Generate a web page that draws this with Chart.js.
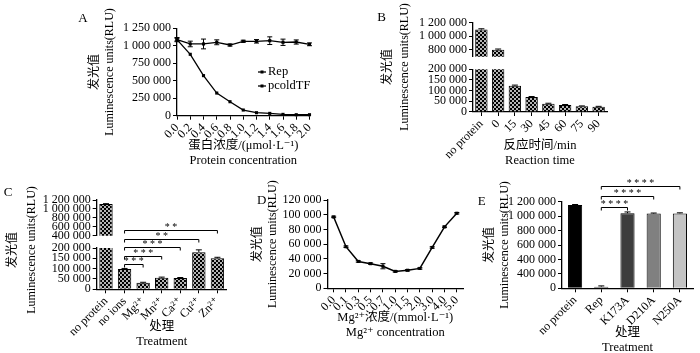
<!DOCTYPE html>
<html>
<head>
<meta charset="utf-8">
<script src="https://cdn.jsdelivr.net/npm/chart.js@4.4.0/dist/chart.umd.min.js"></script>
<style>
  html, body { margin: 0; padding: 0; background: #fff; }
  #fig { position: relative; width: 700px; height: 353px; overflow: hidden; }
  #fig canvas { position: absolute; }
</style>
</head>
<body>
<div id="fig">
  <canvas id="cA" width="330" height="172" style="left:0;top:0"></canvas>
  <canvas id="cB" width="280" height="172" style="left:340px;top:0"></canvas>
  <canvas id="cBt" width="280" height="66" style="left:340px;top:0"></canvas>
  <canvas id="cC" width="235" height="183" style="left:0;top:170px"></canvas>
  <canvas id="cCt" width="235" height="75" style="left:0;top:170px"></canvas>
  <canvas id="cD" width="235" height="183" style="left:235px;top:170px"></canvas>
  <canvas id="cE" width="230" height="183" style="left:470px;top:170px"></canvas>
</div>
<script>
// ---- data ----
// A: protein concentration series
const aConc = ['0.0', '0.2', '0.4', '0.6', '0.8', '1.0', '1.2', '1.4', '1.6', '1.8', '2.0'];
const aRep = [1088000, 878000, 573000, 324000, 200000, 81000, 43000, 33000, 19000, 14000, 14000];
const aRepErr = [20000, 0, 0, 0, 0, 0, 0, 0, 0, 0, 0];
const aTF = [1088000, 1026000, 1026000, 1050000, 1011000, 1064000, 1064000, 1073000, 1050000, 1054000, 1021000];
const aTFErr = [30000, 40000, 70000, 35000, 15000, 15000, 25000, 55000, 45000, 30000, 20000];
const aYTicks = [0, 250000, 500000, 750000, 1000000, 1250000];
const aYLabels = ['0', '250 000', '500 000', '750 000', '1 000 000', '1 250 000'];

// B: reaction time
const bTime = ['no protein', '0', '15', '30', '45', '60', '75', '90'];
const bLum = [1099000, 804000, 123000, 70000, 39000, 33000, 27000, 25000];
const bErr = [12000, 10000, 3000, 2500, 2000, 2000, 1500, 1500];
const bTopTicks = [800000, 1000000, 1200000];
const bTopLabels = ['800 000', '1 000 000', '1 200 000'];
const bLowTicks = [0, 50000, 100000, 150000, 200000];
const bLowLabels = ['0', '50 000', '100 000', '150 000', '200 000'];

// C: metal ions
const cTreat = ['no protein', 'no ions', 'Mg²⁺', 'Mn²⁺', 'Ca²⁺', 'Cu²⁺', 'Zn²⁺'];
const cLum = [1110000, 98000, 32000, 56000, 55000, 180000, 150000];
const cErr = [8000, 3000, 2000, 3000, 2000, 11000, 5000];
const cComp = [[1, 2, '***'], [1, 3, '***'], [1, 4, '***'], [1, 5, '**'], [1, 6, '**']];
const cTopTicks = [400000, 600000, 800000, 1000000, 1200000];
const cTopLabels = ['400 000', '600 000', '800 000', '1 000 000', '1 200 000'];
const cLowTicks = [0, 50000, 100000, 150000, 200000];
const cLowLabels = ['0', '50 000', '100 000', '150 000', '200 000'];

// D: Mg2+ concentration
const dConc = ['0.0', '0.1', '0.3', '0.5', '0.7', '1.0', '1.5', '2.0', '3.0', '4.0', '5.0'];
const dLum = [97000, 56500, 36500, 33500, 30000, 23000, 24500, 27000, 55500, 83500, 102000];
const dErr = [1000, 1000, 1000, 1000, 3500, 1000, 1000, 1000, 1000, 1000, 1000];
const dYTicks = [0, 20000, 40000, 60000, 80000, 100000, 120000];
const dYLabels = ['0', '20 000', '40 000', '60 000', '80 000', '100 000', '120 000'];

// E: mutants
const eTreat = ['no protein', 'Rep', 'K173A', 'D210A', 'N250A'];
const eLum = [1153000, 23000, 1040000, 1035000, 1038000];
const eErr = [8000, 10000, 18000, 8000, 8000];
const eComp = [[1, 2, '****'], [1, 3, '****'], [1, 4, '****']];
const eYTicks = [0, 200000, 400000, 600000, 800000, 1000000, 1200000];
const eYLabels = ['0', '400 000', '400 000', '600 000', '800 000', '1 000 000', '1 200 000'];

const Y_TITLE = ['发光值', 'Luminescence units(RLU)'];

// ---- defaults ----
const FONT = "'Liberation Serif', 'Noto Sans CJK SC', 'DejaVu Serif', serif";
Chart.defaults.font.family = FONT;
Chart.defaults.font.size = 12;
Chart.defaults.color = '#000';
Chart.defaults.animation = false;
Chart.defaults.responsive = false;
Chart.defaults.plugins.legend.display = false;
Chart.defaults.plugins.tooltip.enabled = false;

const ROT = -Math.PI / 2;

// checkered fill used by B and C bars
function checker() {
  const c = document.createElement('canvas');
  c.width = 4; c.height = 4;
  const g = c.getContext('2d');
  g.fillStyle = '#000';
  g.fillRect(0, 0, 4, 4);
  g.fillStyle = '#b4b4b4';
  g.fillRect(0, 0, 2, 2);
  g.fillRect(2, 2, 2, 2);
  return g.createPattern(c, 'repeat');
}
const CHECK = checker();

function yAxis(width, min, max, ticks, labels, title) {
  return {
    min, max,
    afterFit: (s) => { s.width = width; },
    afterBuildTicks: (s) => { s.ticks = ticks.map((v) => ({ value: v })); },
    ticks: { autoSkip: false, padding: 2, callback: (v, i) => labels[i] },
    grid: { drawOnChartArea: false, tickLength: 4, color: '#000' },
    border: { color: '#000', width: 1.3 },
    title: { display: !!title, text: title, padding: 0, font: { size: 12, lineHeight: 1.25 } },
  };
}

function xAxis(height, title, titlePad) {
  return {
    afterFit: (s) => { s.height = height; },
    ticks: { autoSkip: false, minRotation: 45, maxRotation: 45, padding: 1 },
    grid: { drawOnChartArea: false, offset: false, tickLength: 4, color: '#000' },
    border: { color: '#000', width: 1.3 },
    title: { display: true, text: title, padding: titlePad || 0, font: { size: 12.5, lineHeight: 1.2 } },
  };
}

// error bars, drawn from the dataset values through the y scale
function errBars(sets) {
  return {
    id: 'errBars',
    afterDatasetsDraw(chart) {
      const { ctx, chartArea: a } = chart;
      ctx.save();
      ctx.beginPath();
      ctx.rect(a.left - 12, a.top, a.right - a.left + 24, a.bottom - a.top);
      ctx.clip();
      ctx.strokeStyle = '#000';
      ctx.lineWidth = 1;
      sets.forEach((s) => {
        const meta = chart.getDatasetMeta(s.index || 0);
        const ys = chart.scales[meta.yAxisID];
        const vals = chart.data.datasets[s.index || 0].data;
        meta.data.forEach((el, i) => {
          const e = s.err[i];
          if (!e) return;
          const top = ys.getPixelForValue(vals[i] + e);
          const bot = s.up ? el.y : ys.getPixelForValue(vals[i] - e);
          ctx.beginPath();
          ctx.moveTo(el.x, top); ctx.lineTo(el.x, bot);
          ctx.moveTo(el.x - s.cap, top); ctx.lineTo(el.x + s.cap, top);
          if (!s.up) { ctx.moveTo(el.x - s.cap, bot); ctx.lineTo(el.x + s.cap, bot); }
          ctx.stroke();
        });
      });
      ctx.restore();
    },
  };
}

// free text, legend and significance brackets
function decor(cfg) {
  return {
    id: 'decor',
    afterDraw(chart) {
      const ctx = chart.ctx;
      ctx.save();
      ctx.fillStyle = '#000';
      ctx.strokeStyle = '#000';
      (cfg.texts || []).forEach((t) => {
        ctx.save();
        ctx.font = (t.size || 12) + 'px ' + FONT;
        ctx.textAlign = t.align || 'center';
        ctx.textBaseline = 'middle';
        ctx.translate(t.x, t.y);
        if (t.rot) ctx.rotate(t.rot);
        ctx.fillText(t.text, 0, 0);
        ctx.restore();
      });
      (cfg.legend || []).forEach((l) => {
        ctx.lineWidth = 1.3;
        ctx.beginPath();
        ctx.moveTo(l.x - 10, l.y); ctx.lineTo(l.x - 2, l.y);
        ctx.stroke();
        ctx.fillRect(l.x - 7.5, l.y - 1.5, 3, 3);
        ctx.font = '12.5px ' + FONT;
        ctx.textAlign = 'left';
        ctx.textBaseline = 'middle';
        ctx.fillText(l.text, l.x, l.y);
      });
      if (cfg.brackets) {
        const b = cfg.brackets;
        const xs = chart.scales.x, ys = chart.scales.y;
        const vals = chart.data.datasets[0].data;
        const first = b.pairs[0];
        const y0 = ys.getPixelForValue(Math.max(vals[first[0]], vals[first[1]])) - b.gap;
        ctx.lineWidth = 1;
        ctx.font = '10px ' + FONT;
        ctx.textAlign = 'center';
        ctx.textBaseline = 'middle';
        b.pairs.forEach(([i, j, s], k) => {
          const y = Math.round(y0 - k * b.step) + 0.5;
          const x1 = xs.getPixelForValue(i), x2 = xs.getPixelForValue(j);
          ctx.beginPath();
          ctx.moveTo(x1, y + 3); ctx.lineTo(x1, y); ctx.lineTo(x2, y); ctx.lineTo(x2, y + 3);
          ctx.stroke();
          ctx.fillText(s.split('').join(' '), (x1 + x2) / 2, y - 3);
        });
      }
      ctx.restore();
    },
  };
}

const lineStyle = {
  borderColor: '#000', borderWidth: 1.3, pointStyle: 'rect', pointRadius: 2.2,
  pointBackgroundColor: '#000', pointBorderColor: '#000', pointBorderWidth: 0, tension: 0, clip: false,
};

// ---- A ----
new Chart(document.getElementById('cA'), {
  type: 'line',
  data: {
    labels: aConc,
    datasets: [
      { label: 'Rep', data: aRep, ...lineStyle },
      { label: 'pcoldTF', data: aTF, ...lineStyle },
    ],
  },
  options: {
    layout: { padding: { left: 87.5, top: 28.3, right: 20.5, bottom: 3.5 } },
    scales: {
      x: xAxis(52.8, ['蛋白浓度/(μmol·L⁻¹)', 'Protein concentration']),
      y: yAxis(89.5, 0, 1250000, aYTicks, aYLabels, Y_TITLE),
    },
  },
  plugins: [
    errBars([{ index: 0, err: aRepErr, cap: 2.5 }, { index: 1, err: aTFErr, cap: 2.5 }]),
    decor({
      texts: [{ text: 'A', x: 83, y: 19, size: 13 }],
      legend: [{ text: 'Rep', x: 268, y: 72 }, { text: 'pcoldTF', x: 268, y: 86 }],
    }),
  ],
});

// ---- B (broken axis: lower part + upper part) ----
const barCheck = {
  backgroundColor: CHECK, borderColor: '#000', borderWidth: 1, borderSkipped: 'start',
  categoryPercentage: 1,
};
new Chart(document.getElementById('cB'), {
  type: 'bar',
  data: { labels: bTime, datasets: [{ data: bLum, ...barCheck, barPercentage: 0.74 }] },
  options: {
    layout: { padding: { left: 63, top: 69.3, right: 13, bottom: 3.5 } },
    scales: {
      x: xAxis(56.5, ['反应时间/min', 'Reaction time']),
      y: yAxis(70, 0, 200000, bLowTicks, bLowLabels),
    },
  },
  plugins: [
    errBars([{ err: bErr, up: true, cap: 3 }]),
    decor({
      texts: [
        { text: 'B', x: 41.7, y: 18, size: 13 },
        { text: Y_TITLE[0], x: 48.3, y: 67, rot: ROT },
        { text: Y_TITLE[1], x: 65, y: 67, rot: ROT },
      ],
    }),
  ],
});
new Chart(document.getElementById('cBt'), {
  type: 'bar',
  data: { labels: bTime, datasets: [{ data: bLum, ...barCheck, barPercentage: 0.74 }] },
  options: {
    layout: { padding: { left: 63, top: 22.7, right: 13, bottom: 3.8 } },
    scales: {
      x: { display: false },
      y: yAxis(70, 700000, 1200000, bTopTicks, bTopLabels),
    },
  },
  plugins: [errBars([{ err: bErr, up: true, cap: 3 }])],
});

// ---- C (broken axis) ----
new Chart(document.getElementById('cC'), {
  type: 'bar',
  data: { labels: cTreat, datasets: [{ data: cLum, ...barCheck, barPercentage: 0.72 }] },
  options: {
    layout: { padding: { left: 26.7, top: 78, right: 8.3, bottom: 3.5 } },
    scales: {
      x: xAxis(60.2, ['处理', 'Treatment']),
      y: yAxis(70, 0, 200000, cLowTicks, cLowLabels),
    },
  },
  plugins: [
    errBars([{ err: cErr, up: true, cap: 3 }]),
    decor({
      texts: [
        { text: 'C', x: 8, y: 22.7, size: 13 },
        { text: Y_TITLE[0], x: 13.3, y: 80, rot: ROT },
        { text: Y_TITLE[1], x: 31.7, y: 80, rot: ROT },
      ],
      brackets: { pairs: cComp, gap: 5, step: 8.5 },
    }),
  ],
});
new Chart(document.getElementById('cCt'), {
  type: 'bar',
  data: { labels: cTreat, datasets: [{ data: cLum, ...barCheck, barPercentage: 0.72 }] },
  options: {
    layout: { padding: { left: 26.7, top: 30, right: 8.3, bottom: 4.3 } },
    scales: {
      x: { display: false },
      y: yAxis(70, 400000, 1200000, cTopTicks, cTopLabels),
    },
  },
  plugins: [errBars([{ err: cErr, up: true, cap: 3 }])],
});

// ---- D ----
new Chart(document.getElementById('cD'), {
  type: 'line',
  data: { labels: dConc, datasets: [{ data: dLum, ...lineStyle, borderWidth: 1.5 }] },
  options: {
    layout: { padding: { left: 15.8, top: 30, right: 7, bottom: 12.7 } },
    scales: {
      x: { ...xAxis(52, ['Mg²⁺浓度/(mmol·L⁻¹)', 'Mg²⁺ concentration']), offset: true },
      y: yAxis(76.7, 0, 120000, dYTicks, dYLabels, Y_TITLE),
    },
  },
  plugins: [
    errBars([{ err: dErr, cap: 2.5 }]),
    decor({ texts: [{ text: 'D', x: 26.7, y: 31, size: 13 }] }),
  ],
});

// ---- E ----
new Chart(document.getElementById('cE'), {
  type: 'bar',
  data: {
    labels: eTreat,
    datasets: [{
      data: eLum,
      backgroundColor: ['#000000', '#555555', '#3d3d3d', '#808080', '#c4c4c4'],
      borderColor: '#000', borderWidth: 1, borderSkipped: 'start',
      barPercentage: 0.54, categoryPercentage: 1,
    }],
  },
  options: {
    layout: { padding: { left: 12.5, top: 31.7, right: 7, bottom: 0.2 } },
    scales: {
      x: xAxis(64.5, ['处理', 'Treatment'], { top: 0, bottom: -2 }),
      y: yAxis(79.5, 0, 1200000, eYTicks, eYLabels, Y_TITLE),
    },
  },
  plugins: [
    errBars([{ err: eErr, up: true, cap: 3 }]),
    decor({
      texts: [{ text: 'E', x: 11.7, y: 31.7, size: 13 }],
      brackets: { pairs: eComp, gap: 6.5, step: 10.5 },
    }),
  ],
});
</script>
</body>
</html>
